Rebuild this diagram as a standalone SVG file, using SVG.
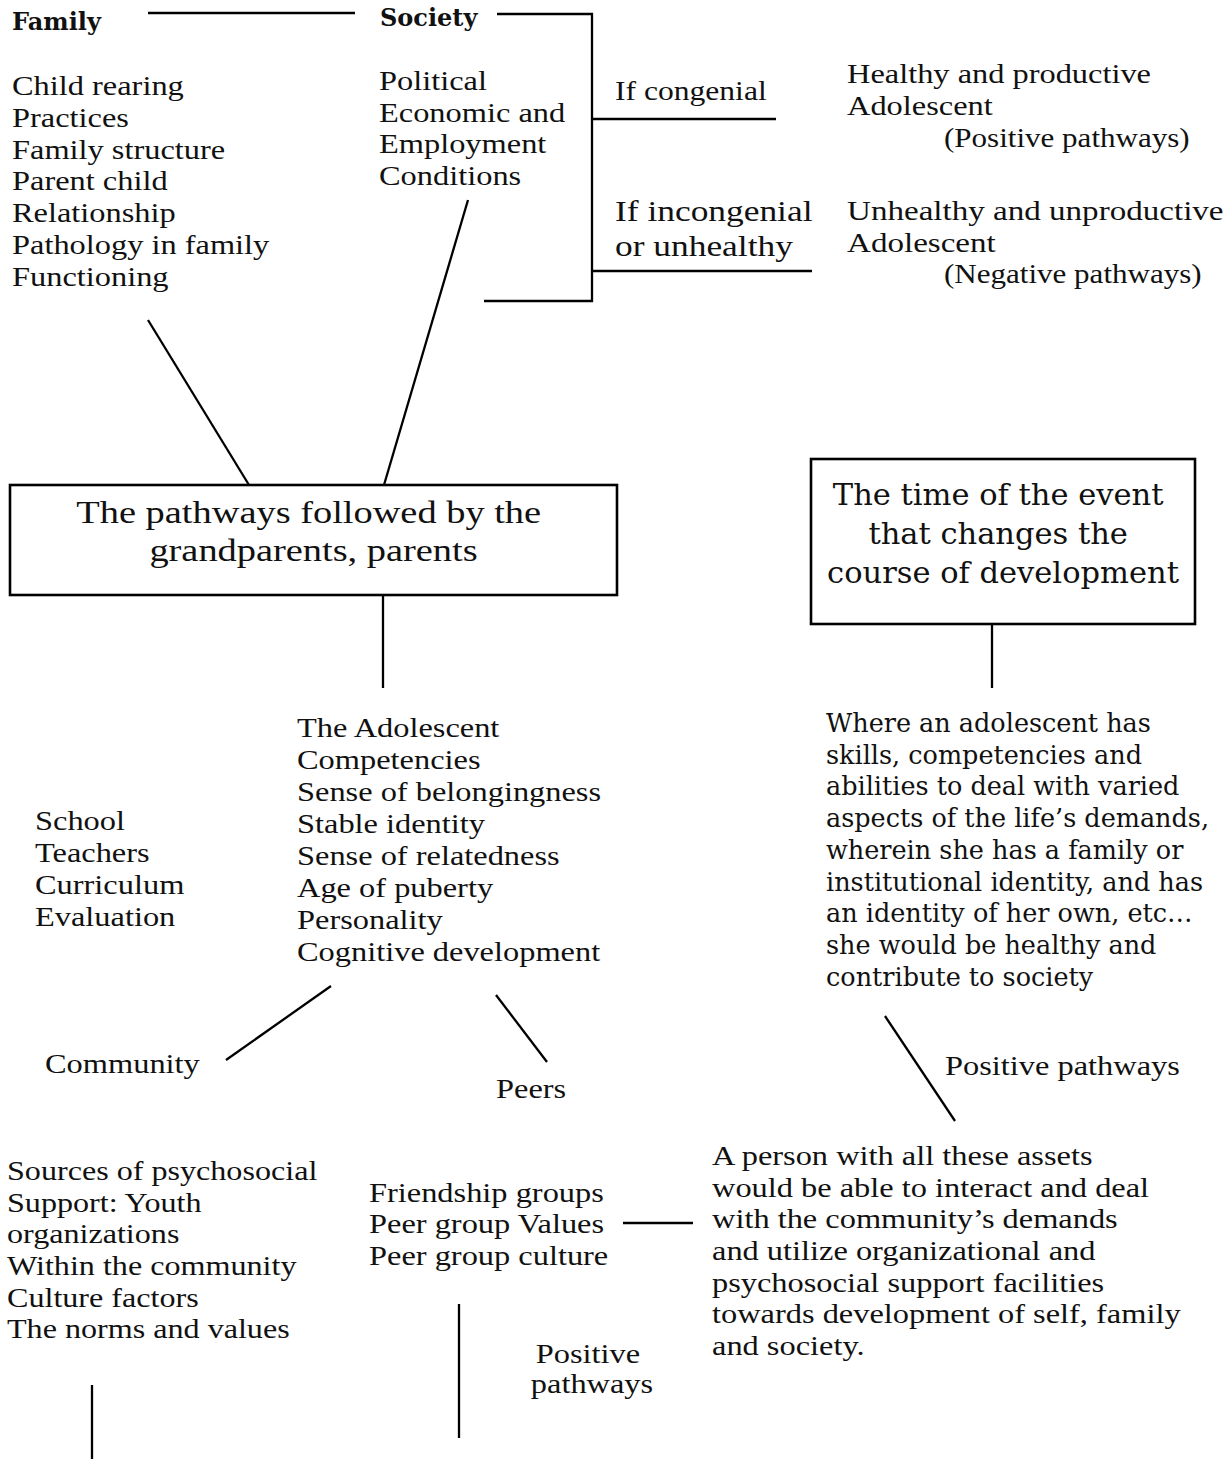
<svg xmlns="http://www.w3.org/2000/svg" width="1229" height="1459" viewBox="0 0 1229 1459">
<style>
.t{font-family:"Liberation Serif","Times New Roman",serif;font-size:27px;fill:#111}
.big{font-size:30px}
.ttl{font-size:32px}
.b{font-family:"DejaVu Serif",serif;font-weight:bold;font-size:24px;fill:#111}
.w{font-family:"DejaVu Serif",serif;font-size:25.5px;fill:#111}
.wt{font-family:"DejaVu Serif",serif;font-size:30.5px;fill:#111}
.c{text-anchor:middle}
.ln{stroke:#000;stroke-width:2.3;fill:none}
.box{stroke:#000;stroke-width:2.6;fill:#fff}
</style>
<rect width="1229" height="1459" fill="#fff"/>
<g id="connectors">
<line class="ln" x1="148" y1="13" x2="355" y2="13"/>
<polyline class="ln" points="497,14 592,14 592,301 484,301"/>
<line class="ln" x1="592" y1="119" x2="776" y2="119"/>
<line class="ln" x1="592" y1="271" x2="812" y2="271"/>
<line class="ln" x1="148" y1="320" x2="249" y2="485"/>
<line class="ln" x1="468" y1="200" x2="384" y2="485"/>
<line class="ln" x1="383" y1="595" x2="383" y2="688"/>
<line class="ln" x1="992" y1="625" x2="992" y2="688"/>
<line class="ln" x1="331" y1="986" x2="226" y2="1060"/>
<line class="ln" x1="496" y1="995" x2="547" y2="1062"/>
<line class="ln" x1="885" y1="1016" x2="955" y2="1121"/>
<line class="ln" x1="623" y1="1223" x2="693" y2="1223"/>
<line class="ln" x1="459" y1="1304" x2="459" y2="1438"/>
<line class="ln" x1="92" y1="1385" x2="92" y2="1459"/>
</g>
<g id="family">
<text class="b" x="12" y="30">Family</text>
<g transform="translate(12,0) scale(1.2,1)"><text class="t">
<tspan x="0" y="95">Child rearing</tspan>
<tspan x="0" y="127">Practices</tspan>
<tspan x="0" y="159">Family structure</tspan>
<tspan x="0" y="190">Parent child</tspan>
<tspan x="0" y="222">Relationship</tspan>
<tspan x="0" y="254">Pathology in family</tspan>
<tspan x="0" y="286">Functioning</tspan>
</text></g>
</g>
<g id="society">
<text class="b" x="380" y="26">Society</text>
<g transform="translate(379,0) scale(1.2,1)"><text class="t">
<tspan x="0" y="90">Political</tspan>
<tspan x="0" y="122">Economic and</tspan>
<tspan x="0" y="153">Employment</tspan>
<tspan x="0" y="185">Conditions</tspan>
</text></g>
</g>
<g id="if-congenial">
<g transform="translate(615,0) scale(1.17,1)"><text class="t" y="100">If congenial</text></g>
</g>
<g id="if-incongenial">
<g transform="translate(615,0) scale(1.18,1)"><text class="t big">
<tspan x="0" y="221">If incongenial</tspan>
<tspan x="0" y="256">or unhealthy</tspan>
</text></g>
</g>
<g id="healthy">
<g transform="translate(847,0) scale(1.2,1)"><text class="t">
<tspan x="0" y="83">Healthy and productive</tspan>
<tspan x="0" y="115">Adolescent</tspan>
</text></g>
<g transform="translate(944,0) scale(1.15,1)"><text class="t" y="147">(Positive pathways)</text></g>
</g>
<g id="unhealthy">
<g transform="translate(847,0) scale(1.225,1)"><text class="t">
<tspan x="0" y="220">Unhealthy and unproductive</tspan>
<tspan x="0" y="252">Adolescent</tspan>
</text></g>
<g transform="translate(944,0) scale(1.15,1)"><text class="t" y="283">(Negative pathways)</text></g>
</g>
<g id="pathways-box">
<rect class="box" x="10" y="485" width="607" height="110"/>
<g transform="translate(313.5,0) scale(1.2,1)"><text class="t ttl c">
<tspan x="0" y="523">The pathways followed by the</tspan>
<tspan x="0" y="561">grandparents, parents</tspan>
</text></g>
</g>
<g id="time-box">
<rect class="box" x="811" y="459" width="384" height="165"/>
<text class="wt c">
<tspan x="1003" y="505">The time of the event</tspan>
<tspan x="1003" y="544">that changes the</tspan>
<tspan x="1003" y="583">course of development</tspan>
</text>
</g>
<g id="adolescent">
<g transform="translate(297,0) scale(1.2,1)"><text class="t">
<tspan x="0" y="737">The Adolescent</tspan>
<tspan x="0" y="769">Competencies</tspan>
<tspan x="0" y="801">Sense of belongingness</tspan>
<tspan x="0" y="833">Stable identity</tspan>
<tspan x="0" y="865">Sense of relatedness</tspan>
<tspan x="0" y="897">Age of puberty</tspan>
<tspan x="0" y="929">Personality</tspan>
<tspan x="0" y="961">Cognitive development</tspan>
</text></g>
</g>
<g id="school">
<g transform="translate(35,0) scale(1.2,1)"><text class="t">
<tspan x="0" y="830">School</tspan>
<tspan x="0" y="862">Teachers</tspan>
<tspan x="0" y="894">Curriculum</tspan>
<tspan x="0" y="926">Evaluation</tspan>
</text></g>
</g>
<g id="community">
<g transform="translate(45,0) scale(1.2,1)"><text class="t" y="1073">Community</text></g>
</g>
<g id="peers">
<g transform="translate(496,0) scale(1.2,1)"><text class="t" y="1098">Peers</text></g>
</g>
<g id="outcome">
<text class="w">
<tspan x="826" y="732">Where an adolescent has</tspan>
<tspan x="826" y="763.7">skills, competencies and</tspan>
<tspan x="826" y="795.4">abilities to deal with varied</tspan>
<tspan x="826" y="827.1">aspects of the life’s demands,</tspan>
<tspan x="826" y="858.8">wherein she has a family or</tspan>
<tspan x="826" y="890.5">institutional identity, and has</tspan>
<tspan x="826" y="922.2">an identity of her own, etc…</tspan>
<tspan x="826" y="953.9">she would be healthy and</tspan>
<tspan x="826" y="985.6">contribute to society</tspan>
</text>
</g>
<g id="positive-right">
<g transform="translate(945,0) scale(1.2,1)"><text class="t" y="1075">Positive pathways</text></g>
</g>
<g id="sources">
<g transform="translate(7,0) scale(1.19,1)"><text class="t">
<tspan x="0" y="1180">Sources of psychosocial</tspan>
<tspan x="0" y="1212">Support: Youth</tspan>
<tspan x="0" y="1243">organizations</tspan>
<tspan x="0" y="1275">Within the community</tspan>
<tspan x="0" y="1307">Culture factors</tspan>
<tspan x="0" y="1338">The norms and values</tspan>
</text></g>
</g>
<g id="friendship">
<g transform="translate(369,0) scale(1.2,1)"><text class="t">
<tspan x="0" y="1202">Friendship groups</tspan>
<tspan x="0" y="1233">Peer group Values</tspan>
<tspan x="0" y="1265">Peer group culture</tspan>
</text></g>
</g>
<g id="person">
<g transform="translate(712,0) scale(1.2,1)"><text class="t">
<tspan x="0" y="1165">A person with all these assets</tspan>
<tspan x="0" y="1197">would be able to interact and deal</tspan>
<tspan x="0" y="1228">with the community’s demands</tspan>
<tspan x="0" y="1260">and utilize organizational and</tspan>
<tspan x="0" y="1292">psychosocial support facilities</tspan>
<tspan x="0" y="1323">towards development of self, family</tspan>
<tspan x="0" y="1355">and society.</tspan>
</text></g>
</g>
<g id="positive-bottom">
<g transform="translate(592,0) scale(1.2,1)"><text class="t c">
<tspan x="0" y="1363">Positive</tspan>
<tspan x="0" y="1393">pathways</tspan>
</text></g>
</g>
</svg>
